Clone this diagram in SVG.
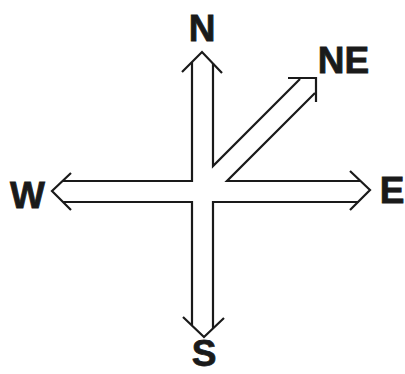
<svg xmlns="http://www.w3.org/2000/svg" width="405" height="374" viewBox="0 0 405 374">
<style>
.ln{fill:none;stroke:#1a1a1a;stroke-width:2.2;stroke-linejoin:miter;stroke-linecap:butt}
.lb{font-family:"Liberation Sans",Arial,sans-serif;font-weight:bold;font-size:37px;fill:#1a1a1a;stroke:#1a1a1a;stroke-width:0.8;text-anchor:middle}
</style>
<rect width="405" height="374" fill="#ffffff"/>
<g id="connectors">
<polyline class="ln" points="182,72 202,52 222,73"/>
<polyline class="ln" points="192,62 192,181 62.5,181"/>
<polyline class="ln" points="63,202 192,202 192,325"/>
<polyline class="ln" points="213,63 213,166 300,79"/>
<polyline class="ln" points="315,93 227,181 360.5,181"/>
<polyline class="ln" points="358.5,202 213,202 213,328"/>
<polyline class="ln" points="71,173 52,191 71,210"/>
<polyline class="ln" points="350,171 370,190 350,210"/>
<polyline class="ln" points="183,317 204,337 224,318"/>
<polyline class="ln" points="288,78 316,78 316,102"/>
</g>
<g id="N"><text class="lb" x="202" y="41">N</text></g>
<g id="NE"><text class="lb" x="343.5" y="73">NE</text></g>
<g id="W"><text class="lb" x="27.5" y="208">W</text></g>
<g id="E"><text class="lb" x="392" y="203">E</text></g>
<g id="S"><text class="lb" x="204" y="366">S</text></g>
</svg>
